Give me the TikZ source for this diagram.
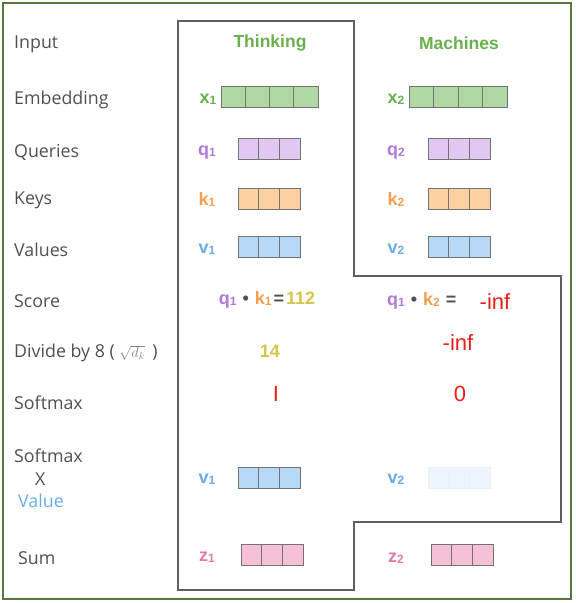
\documentclass[tikz,border=0pt]{standalone}
\usepackage{fontspec}
\setmainfont{Open Sans}
\newfontfamily\arialf{Liberation Sans}
\definecolor{framegreen}{RGB}{88,120,60}
\definecolor{polygray}{RGB}{95,95,95}
\definecolor{labgray}{RGB}{80,80,80}
\definecolor{headgreen}{RGB}{106,176,76}
\definecolor{embfill}{RGB}{176,216,164}
\definecolor{qfill}{RGB}{224,200,242}
\definecolor{qtext}{RGB}{176,122,216}
\definecolor{kfill}{RGB}{252,208,160}
\definecolor{ktext}{RGB}{240,160,80}
\definecolor{vfill}{RGB}{184,216,248}
\definecolor{vtext}{RGB}{106,174,232}
\definecolor{vfaint}{RGB}{238,244,252}
\definecolor{zfill}{RGB}{245,192,216}
\definecolor{ztext}{RGB}{224,122,168}
\definecolor{yeltext}{RGB}{212,198,70}
\definecolor{redtext}{RGB}{232,32,26}
\definecolor{cellline}{RGB}{115,115,115}
\newcommand{\vlab}[3]{{\arialf\bfseries\color{#1}\fontsize{18}{18}\selectfont #2\raisebox{-1pt}{\fontsize{12}{12}\selectfont #3}}}
\newcommand{\opsym}[1]{{\arialf\bfseries\color{labgray}\fontsize{18}{18}\selectfont #1}}
\newcommand{\vecbox}[6]{%
  \foreach \i in {1,...,#4}{%
    \node[cellbox,minimum width=#5pt,fill=#6,anchor=west] (#1\i) at ({#2+(\i-1)*#5},#3) {};}}
\begin{document}
\begin{tikzpicture}[x=1pt,y=-1pt,
  rowlab/.style={anchor=west,text=labgray,font=\fontsize{17.8}{20}\selectfont,inner sep=0pt},
  head/.style={text=headgreen,font=\arialf\bfseries\fontsize{17.5}{17.5}\selectfont,inner sep=0pt},
  cellbox/.style={draw=cellline,line width=0.8pt,minimum height=21pt,inner sep=0pt,outer sep=0pt},
  vl/.style={inner sep=0pt},
  redt/.style={text=redtext,font=\arialf\fontsize{22}{22}\selectfont,inner sep=0pt}]
\useasboundingbox (0,0) rectangle (576,603);
\draw[framegreen,line width=2.4pt] (3,3) rectangle (571,599);
\draw[polygray,line width=1.2pt] (178,21) -- (354,21) -- (354,276) -- (561,276) -- (561,522) -- (354,522) -- (354,590) -- (178,590) -- cycle;

% row labels
\node[rowlab] (lin) at (14,44) {Input};
\node[rowlab] (lemb) at (14,100) {Embedding};
\node[rowlab] (lq) at (14,152) {Queries};
\node[rowlab] (lk) at (14,200) {Keys};
\node[rowlab] (lv) at (14,250) {Values};
\node[rowlab] (lsc) at (14,301) {Score};
\node[rowlab] (ldiv) at (14,353) {Divide by 8 ( {\color{labgray!70}\fontsize{14}{14}\selectfont$\sqrt{d_k}$}\ \,)};
\node[rowlab] (lsm) at (14,403) {Softmax};
\node[rowlab] (lsm2) at (14,456) {Softmax};
\node[rowlab] (lx) at (35,479) {X};
\node[rowlab,text=vtext] (lval) at (18,501) {Value};
\node[rowlab] (lsum) at (18,558) {Sum};

% headings
\node[head] (h1) at (270,43) {Thinking};
\node[head] (h2) at (459,43) {Machines};

% column 1
\node[vl] (tx1) at (208,99) {\vlab{headgreen}{x}{1}};
\vecbox{ex}{221}{97}{4}{24.25}{embfill}
\node[vl] (tq1) at (207,153) {\vlab{qtext}{q}{1}};
\vecbox{qa}{238}{149}{3}{20.7}{qfill}
\node[vl] (tk1) at (207,199) {\vlab{ktext}{k}{1}};
\vecbox{ka}{238}{199}{3}{20.7}{kfill}
\node[vl] (tv1) at (207,249) {\vlab{vtext}{v}{1}};
\vecbox{va}{238}{247}{3}{20.7}{vfill}
\node[vl] (sc1) at (267,300) {\vlab{qtext}{q}{1}\hspace{6pt}\opsym{•}\hspace{6pt}\vlab{ktext}{k}{1}\hspace{2pt}\opsym{=}\hspace{2pt}{\arialf\bfseries\color{yeltext}\fontsize{18}{18}\selectfont 112}};
\node[vl] (d1) at (270,351) {\arialf\bfseries\color{yeltext}\fontsize{18}{18}\selectfont 14};
\node[redt] (s1) at (276,394) {I};
\node[vl] (tw1) at (207,479) {\vlab{vtext}{v}{1}};
\vecbox{wa}{238}{478}{3}{20.7}{vfill}
\node[vl] (tz1) at (207,557) {\vlab{ztext}{z}{1}};
\vecbox{za}{241}{555}{3}{20.7}{zfill}

% column 2
\node[vl] (tx2) at (396,99) {\vlab{headgreen}{x}{2}};
\vecbox{ey}{409}{97}{4}{24.5}{embfill}
\node[vl] (tq2) at (396,153) {\vlab{qtext}{q}{2}};
\vecbox{qb}{428}{149}{3}{20.7}{qfill}
\node[vl] (tk2) at (396,199) {\vlab{ktext}{k}{2}};
\vecbox{kb}{428}{199}{3}{20.7}{kfill}
\node[vl] (tv2) at (396,249) {\vlab{vtext}{v}{2}};
\vecbox{vb}{428}{247}{3}{20.7}{vfill}
\node[vl,anchor=west] (sc2) at (387,301) {\vlab{qtext}{q}{1}\hspace{6pt}\opsym{•}\hspace{6pt}\vlab{ktext}{k}{2}\hspace{6pt}\opsym{=}};
\node[redt] (sc2v) at (495,302) {-inf};
\node[redt] (d2) at (458,343) {-inf};
\node[redt] (s2) at (460,394) {0};
\node[vl] (tw2) at (396,479) {\vlab{vtext}{v}{2}};
\begin{scope}[cellbox/.append style={draw=vfill!35}]
\vecbox{wb}{428}{478}{3}{20.7}{vfaint}
\end{scope}
\node[vl] (tz2) at (396,558) {\vlab{ztext}{z}{2}};
\vecbox{zb}{431}{555}{3}{20.7}{zfill}
\end{tikzpicture}
\end{document}
